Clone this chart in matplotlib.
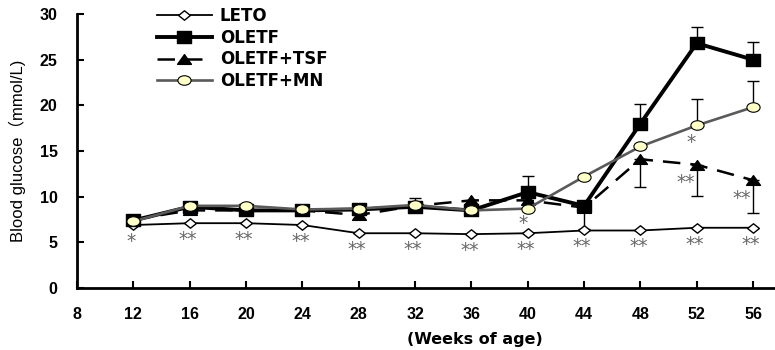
import matplotlib.pyplot as plt
from matplotlib.path import Path
from matplotlib.transforms import Affine2D

plt.rcParams['font.family'] = ['Liberation Sans', 'Noto Sans CJK SC', 'DejaVu Sans']

weeks = [12, 16, 20, 24, 28, 32, 36, 40, 44, 48, 52, 56]

leto = [6.9, 7.1, 7.1, 6.9, 6.0, 6.0, 5.9, 6.0, 6.3, 6.3, 6.6, 6.6]
oletf = [7.4, 8.9, 8.5, 8.5, 8.6, 8.9, 8.5, 10.5, 9.0, 18.0, 26.8, 25.0]
tsf = [7.5, 8.5, 8.5, 8.5, 8.0, 9.0, 9.6, 9.6, 8.8, 14.1, 13.5, 11.8]
mn = [7.3, 9.0, 9.0, 8.6, 8.7, 9.1, 8.5, 8.7, 12.2, 15.5, 17.8, 19.8]

# one-sided SD bars (week, mean, sd)
oletf_up = [(40, 10.5, 1.8), (48, 18.0, 2.1), (52, 26.8, 1.8), (56, 25.0, 1.9)]
oletf_down = [(44, 9.0, 2.5)]
tsf_down = [(48, 14.1, 3.0), (52, 13.5, 3.4), (56, 11.8, 3.6)]
mn_up = [(32, 9.1, 0.8), (52, 17.8, 2.9), (56, 19.8, 2.9)]

leto_marks = ['*'] + ['**'] * 11
# extra significance marks: (week, glucose, text)
other_marks = [(40, 8.7, '*'), (52, 17.8, '*'), (52, 13.5, '**'), (56, 11.8, '**')]
other_shift = [(-3.5, -15), (-4.3, -16.3), (-8, -17), (-8, -17)]


def squashed(verts, sy):
    codes = [Path.MOVETO] + [Path.LINETO] * (len(verts) - 2) + [Path.CLOSEPOLY]
    return Path(verts, codes).transformed(Affine2D().scale(1, sy))


diamond = squashed([(0, 1), (1, 0), (0, -1), (-1, 0), (0, 1)], 0.8)
square = squashed([(-1, -1), (1, -1), (1, 1), (-1, 1), (-1, -1)], 0.85)
triangle = squashed([(0, 1), (-1, -1), (1, -1), (0, 1)], 0.7)
ellipse = Path.unit_circle().transformed(Affine2D().scale(1, 0.72))

fig = plt.figure(figsize=(7.75, 3.5), dpi=100)
ax = fig.add_axes([0.0994, 0.177, 0.905, 0.783])

for pts, sign in [(oletf_up, 1), (oletf_down, -1), (tsf_down, -1), (mn_up, 1)]:
    for w, m, sd in pts:
        err = [[0], [sd]] if sign > 0 else [[sd], [0]]
        ax.errorbar(w, m, yerr=err, fmt='none', ecolor='black',
                    elinewidth=1, capsize=4.5, capthick=1, zorder=2)

ax.plot(weeks, leto, color='black', lw=1.3, marker=diamond, ms=8.5,
        mfc='white', mec='black', mew=1, label='LETO', zorder=3)
ax.plot(weeks, oletf, color='black', lw=2.8, marker=square, ms=9.5,
        mfc='black', mec='black', label='OLETF', zorder=4)
ax.plot(weeks, tsf, color='black', lw=1.8, ls=(0, (7, 4)), marker=triangle, ms=10,
        mfc='black', mec='black', label='OLETF+TSF', zorder=5)
ax.plot(weeks, mn, color='#5a5a5a', lw=1.9, marker=ellipse, ms=9.5,
        mfc='#FFFFC8', mec='black', mew=0.8, label='OLETF+MN', zorder=6)

for w, v, t in zip(weeks, leto, leto_marks):
    ax.annotate(t, (w, v), xytext=(-1.5, -15.8), textcoords='offset points',
                ha='center', va='baseline', fontsize=13.5, color='#666666',
                family='DejaVu Sans')
for (w, v, t), (dx, dy) in zip(other_marks, other_shift):
    ax.annotate(t, (w, v), xytext=(dx, dy), textcoords='offset points',
                ha='center', va='baseline', fontsize=13.5, color='#666666',
                family='DejaVu Sans')

ax.set_xlim(8, 57.8)
ax.set_ylim(0, 30)
ax.set_xticks([8, 12, 16, 20, 24, 28, 32, 36, 40, 44, 48, 52, 56])
ax.set_yticks([0, 5, 10, 15, 20, 25, 30])
for s in ['top', 'right']:
    ax.spines[s].set_visible(False)
for s in ['left', 'bottom']:
    ax.spines[s].set_linewidth(2)
ax.tick_params(direction='in', width=1.5, length=5, labelsize=11.5)
ax.tick_params(axis='x', pad=14)
ax.tick_params(axis='y', pad=14)
for lab in ax.get_xticklabels() + ax.get_yticklabels():
    lab.set_fontweight('bold')

ax.set_ylabel('Blood glucose（mmol/L)', fontsize=12)
ax.yaxis.set_label_coords(-0.073, 0.5)
ax.set_xlabel('(Weeks of age)', fontsize=11.5, fontweight='bold',
              family='DejaVu Sans')
ax.xaxis.set_label_coords(0.567, -0.16)

ax.legend(loc='upper left', bbox_to_anchor=(0.092, 1.08), frameon=False,
          handlelength=3.3, handletextpad=0.5, labelspacing=0.22,
          prop={'weight': 'bold', 'size': 12, 'family': 'DejaVu Sans'})

fig.savefig('out.png', dpi=100)
